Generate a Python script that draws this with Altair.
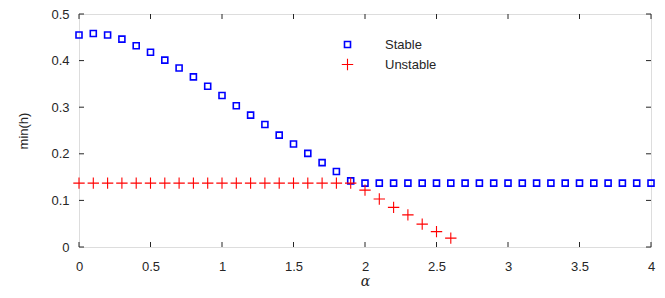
import altair as alt
import pandas as pd

# Data
alpha_stable = [round(0.1 * i, 1) for i in range(41)]
h_stable = [0.455, 0.458, 0.455, 0.446, 0.432, 0.418, 0.401, 0.384, 0.365, 0.345,
            0.325, 0.303, 0.283, 0.263, 0.240, 0.221, 0.201, 0.181, 0.162, 0.142,
            0.137, 0.137, 0.137, 0.137, 0.137, 0.137, 0.137, 0.137, 0.137, 0.137,
            0.137, 0.137, 0.137, 0.137, 0.137, 0.137, 0.137, 0.137, 0.137, 0.137,
            0.137]
alpha_unstable = [round(0.1 * i, 1) for i in range(27)]
h_unstable = [0.137] * 20 + [0.122, 0.103, 0.085, 0.069, 0.049, 0.033, 0.019]

x_ticks = [0, 0.5, 1, 1.5, 2, 2.5, 3, 3.5, 4]
y_ticks = [0, 0.1, 0.2, 0.3, 0.4, 0.5]
series_names = ["Stable", "Unstable"]

df = pd.DataFrame({
    "alpha": alpha_stable + alpha_unstable,
    "h": h_stable + h_unstable,
    "series": [series_names[0]] * len(alpha_stable) + [series_names[1]] * len(alpha_unstable),
})
xt = pd.DataFrame({"x": x_ticks})
yt = pd.DataFrame({"y": y_ticks})

W, H = 572, 233
TXT = "#262626"
FONT = "Liberation Sans"
TL = 5

xscale = alt.Scale(domain=[0, 4], nice=False, zero=False)
yscale = alt.Scale(domain=[0, 0.5], nice=False, zero=False)

leg = alt.Legend(title=None, orient="none", legendX=262, legendY=24,
                 labelOffset=31, rowPadding=4, labelFontSize=13, labelFont=FONT,
                 labelColor=TXT, padding=0)

points = alt.Chart(df).mark_point(opacity=1).encode(
    x=alt.X("alpha:Q", scale=xscale,
            axis=alt.Axis(values=x_ticks, format="~g", tickSize=0, domain=False, grid=False,
                          labelFlush=False, labelOverlap=False,
                          labelPadding=13, labelFontSize=13, labelFont=FONT, labelColor=TXT,
                          title="α", titleFontStyle="italic", titleFontWeight="normal",
                          titleFontSize=14, titleFont="DejaVu Serif", titleColor=TXT,
                          titlePadding=1)),
    y=alt.Y("h:Q", scale=yscale,
            axis=alt.Axis(values=y_ticks, format="~g", tickSize=0, domain=False, grid=False,
                          labelFlush=False, labelOverlap=False,
                          labelPadding=10, labelFontSize=13, labelFont=FONT, labelColor=TXT,
                          title="min(h)", titleFontWeight="normal", titleFontSize=13,
                          titleFont=FONT, titleColor=TXT, titlePadding=20)),
    color=alt.Color("series:N", scale=alt.Scale(domain=series_names, range=["#0000ff", "#ff0000"]), legend=leg),
    shape=alt.Shape("series:N", scale=alt.Scale(domain=series_names, range=["square", "M-1,0L1,0M0,-1L0,1"]), legend=leg),
    size=alt.Size("series:N", scale=alt.Scale(domain=series_names, range=[36, 130]), legend=leg),
    strokeWidth=alt.StrokeWidth("series:N", scale=alt.Scale(domain=series_names, range=[1.6, 1.1]), legend=leg),
)

bottom_ticks = alt.Chart(xt).mark_rule(color=TXT, strokeWidth=1).encode(
    x=alt.X("x:Q", scale=xscale), y=alt.value(H), y2=alt.value(H - TL))
top_ticks = alt.Chart(xt).mark_rule(color=TXT, strokeWidth=1).encode(
    x=alt.X("x:Q", scale=xscale), y=alt.value(0), y2=alt.value(TL))
left_ticks = alt.Chart(yt).mark_rule(color=TXT, strokeWidth=1).encode(
    y=alt.Y("y:Q", scale=yscale), x=alt.value(0), x2=alt.value(TL))
right_ticks = alt.Chart(yt).mark_rule(color=TXT, strokeWidth=1).encode(
    y=alt.Y("y:Q", scale=yscale), x=alt.value(W), x2=alt.value(W - TL))

chart = alt.layer(bottom_ticks, top_ticks, left_ticks, right_ticks, points).properties(
    width=W, height=H,
    padding={"left": 71, "top": 6, "right": 6, "bottom": 43},
    autosize=alt.AutoSizeParams(type="none"),
).configure_view(stroke=TXT, strokeWidth=1.3).configure(background="white")

chart.save("out.html", embed_options={"renderer": "svg", "actions": False})
